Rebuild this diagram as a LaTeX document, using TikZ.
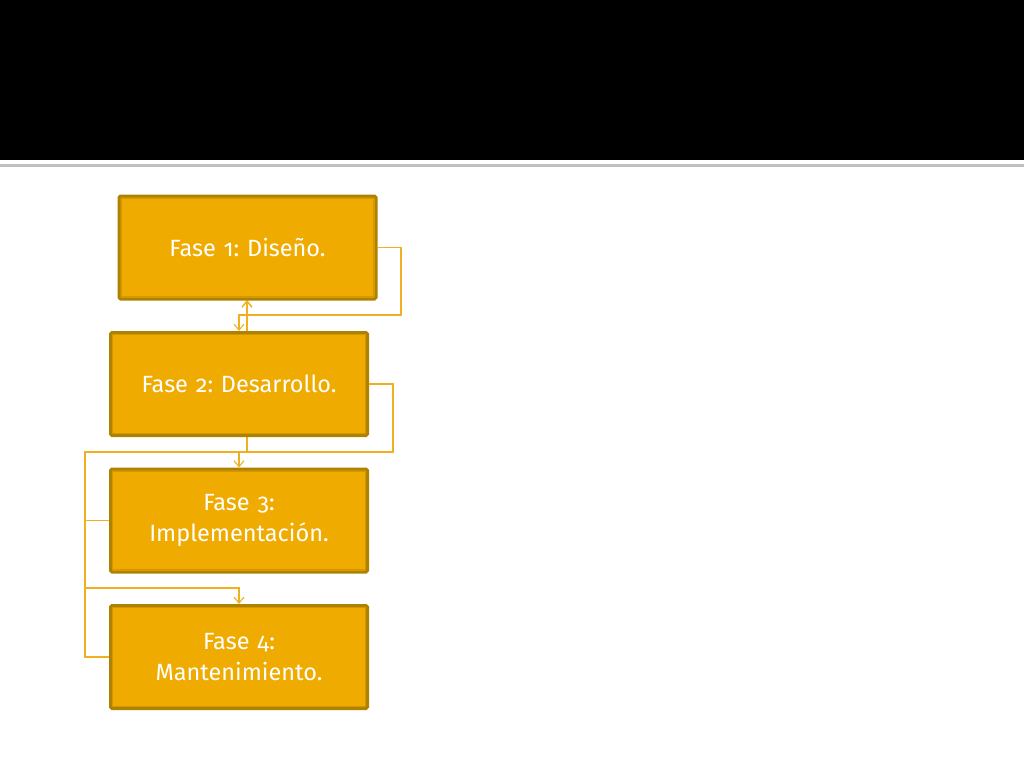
\documentclass[tikz,border=0pt]{standalone}
\usepackage{fontspec}
\setmainfont{Fira Sans}[Numbers=OldStyle]
\frenchspacing
\usetikzlibrary{arrows.meta}
\definecolor{boxfill}{HTML}{F0AB00}
\definecolor{boxedge}{HTML}{AE8200}
\definecolor{boxinner}{HTML}{D39700}
\definecolor{linkcol}{HTML}{F0B020}
\definecolor{rulegray}{HTML}{BFBFBF}
\begin{document}
\begin{tikzpicture}[x=1pt,y=-1pt,
  phase/.style={draw=boxedge, line width=3pt, fill=boxfill, rounded corners=1.5pt,
    minimum width=257pt, minimum height=103pt, text width=245pt, align=center,
    text=white, font=\fontsize{23.5}{31}\selectfont, inner sep=0pt},
  link/.style={draw=linkcol, line width=1.3pt},
  tip/.style={-{Straight Barb[length=6pt,width=10pt,line width=1.1pt]}}
]
\useasboundingbox (0,0) rectangle (1024,768);
\fill[black] (0,0) rectangle (1024,160);
\fill[rulegray] (0,164) rectangle (1024,166.5);

% feedback connector drawn behind the boxes
\coordinate (l4) at (85,657);
\coordinate (l4b) at (85,452);
\coordinate (l4c) at (247,452);
\draw[link,tip] (109,657) -- (l4) -- (l4b) -- (l4c) -- (247,300);

\node[phase] (b1) at (247.5,247.5) {Fase 1: Diseño.};
\node[phase] (b2) at (239,384) {Fase 2: Desarrollo.};
\node[phase] (b3) at (239,520.5) {Fase 3:\\Implementación.};
\node[phase] (b4) at (239,657) {Fase 4:\\Mantenimiento.};

% inner thin outline
\foreach \n in {b1,b2,b3,b4}{
  \draw[boxinner, line width=0.9pt] ([shift={(3.8,3.8)}]\n.north west) rectangle ([shift={(-3.8,-3.8)}]\n.south east);
}

\coordinate (c1a) at (401,247.5);
\coordinate (c1b) at (401,315);
\coordinate (c1c) at (239,315);
\draw[link,tip] (b1.east) -- (c1a) -- (c1b) -- (c1c) -- (b2.north);

\coordinate (c2a) at (393,384);
\coordinate (c2b) at (393,452);
\coordinate (c2c) at (239,452);
\draw[link,tip] (b2.east) -- (c2a) -- (c2b) -- (c2c) -- (b3.north);

\coordinate (c3a) at (85,520.5);
\coordinate (c3b) at (85,588);
\coordinate (c3c) at (239,588);
\draw[link,tip] (b3.west) -- (c3a) -- (c3b) -- (c3c) -- (b4.north);

% visible part of feedback into box 1
\draw[link,tip] (247,331) -- (b1.south -| 247,0);
\end{tikzpicture}
\end{document}
